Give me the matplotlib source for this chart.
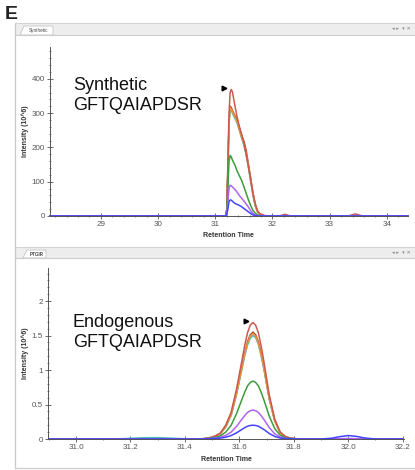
import matplotlib
matplotlib.use("Agg")
import matplotlib.pyplot as plt
from matplotlib.patches import Rectangle, Polygon
from matplotlib.lines import Line2D
from matplotlib.ticker import MultipleLocator, AutoMinorLocator
import matplotlib.transforms as mtransforms

plt.rcParams['font.family'] = ['Liberation Sans', 'DejaVu Sans']

W, H = 415, 470

# ---- data (intensity in 10^6) ----
series_names = ["brown", "teal", "orange", "red", "green", "purple", "blue"]
colors = ["#a8442e", "#4cbcbc", "#e8943c", "#cc5a50", "#3c9c3c", "#b064f0", "#4444ff"]

syn_time = [28.11, 31.18, 31.20, 31.22, 31.24, 31.26, 31.28, 31.30, 31.34, 31.38,
            31.42, 31.46, 31.50, 31.54, 31.58, 31.62, 31.66, 31.70, 31.74, 31.78,
            31.82, 31.86, 31.90, 32.12, 32.22, 32.32, 33.32, 33.45, 33.58, 34.37]
syn_red    = [0, 0, 20, 150, 300, 360, 369, 362, 325, 290, 262, 238, 215, 180, 145, 105,
              65, 35, 15, 7, 4, 2, 0, 0, 5, 0, 0, 6, 0, 0]
syn_brown  = [0, 0, 15, 130, 275, 320, 316, 308, 294, 280, 258, 236, 218, 192, 150, 110,
              66, 33, 13, 5, 2, 0, 0, 0, 0, 0, 0, 0, 0, 0]
syn_orange = [0, 0, 15, 130, 270, 316, 312, 305, 290, 275, 252, 230, 210, 183, 145, 105,
              62, 30, 12, 5, 2, 0, 0, 0, 0, 0, 0, 0, 0, 0]
syn_teal   = [0, 0, 14, 125, 265, 312, 308, 300, 286, 272, 250, 228, 206, 178, 140, 100,
              58, 28, 11, 4, 2, 0, 0, 0, 0, 0, 0, 0, 0, 0]
syn_green  = [0, 0, 10, 80, 160, 177, 172, 163, 150, 132, 118, 104, 86, 66, 47, 30,
              16, 8, 3, 1, 0, 0, 0, 0, 0, 0, 0, 0, 0, 0]
syn_purple = [0, 0, 5, 40, 80, 90, 88, 85, 78, 70, 60, 52, 44, 35, 26, 15,
              7, 3, 1, 0, 0, 0, 0, 0, 0, 0, 0, 0, 0, 0]
syn_blue   = [0, 0, 3, 20, 42, 47, 46, 43, 37, 34, 31, 27, 22, 17, 12, 7,
              3, 1, 0, 0, 0, 0, 0, 0, 0, 0, 0, 0, 0, 0]

endo_time = [30.90, 31.15, 31.20, 31.25, 31.30, 31.35, 31.40,
             31.45, 31.47, 31.49, 31.51, 31.53, 31.55, 31.57, 31.59, 31.61, 31.62, 31.63,
             31.64, 31.65, 31.66, 31.67, 31.68, 31.69, 31.71, 31.73, 31.75, 31.77, 31.79,
             31.81, 31.83, 31.85,
             31.90, 31.94, 31.97, 32.00, 32.03, 32.06, 32.10, 32.20]
endo_red    = [0, 0, 0, 0, 0, 0, 0,
               0, 0.005, 0.017, 0.04, 0.085, 0.2, 0.39, 0.73, 1.15, 1.36, 1.54,
               1.65, 1.69, 1.65, 1.54, 1.35, 1.13, 0.64, 0.29, 0.1, 0.035, 0.01,
               0.003, 0, 0,
               0, 0, 0, 0, 0, 0, 0, 0]
endo_brown  = [0, 0, 0, 0, 0, 0, 0,
               0, 0.005, 0.015, 0.04, 0.08, 0.19, 0.37, 0.68, 1.06, 1.25, 1.41,
               1.51, 1.55, 1.51, 1.41, 1.24, 1.04, 0.59, 0.27, 0.095, 0.03, 0.01,
               0.003, 0, 0,
               0, 0, 0, 0, 0, 0, 0, 0]
endo_orange = [0, 0, 0, 0, 0, 0, 0,
               0, 0.004, 0.015, 0.035, 0.075, 0.18, 0.35, 0.66, 1.04, 1.23, 1.39,
               1.49, 1.53, 1.49, 1.39, 1.22, 1.03, 0.58, 0.26, 0.09, 0.03, 0.009,
               0.003, 0, 0,
               0, 0, 0, 0, 0, 0, 0, 0]
endo_teal   = [0, 0, 0.01, 0.018, 0.02, 0.012, 0.003,
               0, 0.004, 0.014, 0.035, 0.075, 0.17, 0.34, 0.65, 1.02, 1.21, 1.36,
               1.46, 1.50, 1.47, 1.37, 1.21, 1.02, 0.58, 0.26, 0.09, 0.03, 0.009,
               0.003, 0, 0,
               0, 0, 0, 0, 0, 0, 0, 0]
endo_green  = [0, 0, 0, 0, 0, 0, 0,
               0, 0.003, 0.01, 0.022, 0.045, 0.1, 0.2, 0.37, 0.58, 0.68, 0.77,
               0.82, 0.84, 0.82, 0.77, 0.68, 0.57, 0.33, 0.15, 0.055, 0.018, 0.005,
               0.002, 0, 0,
               0, 0, 0, 0, 0, 0, 0, 0]
endo_purple = [0, 0, 0, 0, 0, 0, 0,
               0, 0.002, 0.006, 0.012, 0.025, 0.052, 0.1, 0.185, 0.29, 0.34, 0.385,
               0.41, 0.42, 0.41, 0.385, 0.34, 0.285, 0.165, 0.075, 0.028, 0.01, 0.003,
               0, 0, 0,
               0, 0, 0.005, 0.008, 0.005, 0, 0, 0]
endo_blue   = [0, 0, 0, 0, 0, 0, 0,
               0, 0.001, 0.003, 0.007, 0.013, 0.026, 0.05, 0.09, 0.14, 0.165, 0.185,
               0.196, 0.20, 0.196, 0.185, 0.162, 0.138, 0.08, 0.037, 0.014, 0.005, 0.002,
               0, 0, 0,
               0, 0.012, 0.035, 0.05, 0.038, 0.015, 0, 0]

syn_series = [syn_brown, syn_teal, syn_orange, syn_red, syn_green, syn_purple, syn_blue]
endo_series = [endo_brown, endo_teal, endo_orange, endo_red, endo_green, endo_purple, endo_blue]


def fx(x):
    return x / W


def fy(y):
    return 1 - y / H


fig = plt.figure(figsize=(W / 100, H / 100), dpi=100)
fig.patch.set_facecolor("white")


def tab_strip(y0, y1, tab_x0, tab_x1, label, bold):
    fig.add_artist(Rectangle((fx(15), fy(y1)), fx(W - 15), (y1 - y0) / H,
                             transform=fig.transFigure, facecolor="#eeeeee",
                             edgecolor="none", zorder=0))
    fig.add_artist(Line2D([fx(15), 1], [fy(y0), fy(y0)], transform=fig.transFigure,
                          color="#d4d4d4", lw=0.8))
    fig.add_artist(Line2D([fx(15), 1], [fy(y1), fy(y1)], transform=fig.transFigure,
                          color="#cccccc", lw=0.8))
    fig.add_artist(Polygon([(fx(tab_x0 - 4), fy(y1)), (fx(tab_x0), fy(y0 + 3)),
                            (fx(tab_x1), fy(y0 + 3)), (fx(tab_x1), fy(y1))],
                           closed=True, transform=fig.transFigure,
                           facecolor="white", edgecolor="#c4c4c4", lw=0.6))
    fig.text(fx((tab_x0 + tab_x1) / 2), fy((y0 + 3 + y1) / 2), label, fontsize=3.3,
             color="#444444", ha="center", va="center",
             fontweight="bold" if bold else "normal")
    fig.text(fx(401), fy(y0 + 5.5), "\u25c2 \u25b8  \u25be \u2715", fontsize=3.8,
             color="#888888", ha="center", va="center", family=["DejaVu Sans"])


# window chrome
fig.add_artist(Line2D([fx(15), fx(15)], [fy(23), fy(468)], transform=fig.transFigure,
                      color="#c8c8c8", lw=0.9))
fig.add_artist(Line2D([fx(15), 1], [fy(468), fy(468)], transform=fig.transFigure,
                      color="#cccccc", lw=0.9))
tab_strip(23, 35, 24, 53, "Synthetic", False)
tab_strip(247, 258, 27, 46, "PTGIR", True)

fig.text(fx(5), fy(19), "E", fontsize=14, fontweight="bold", ha="left",
         va="baseline", color="#222222")

ax1 = fig.add_axes([fx(50), fy(216), (408 - 50) / W, (216 - 47) / H])
ax2 = fig.add_axes([fx(48), fy(439), (404 - 48) / W, (439 - 268) / H])


def style(ax, xmaj, xmin_div, ymaj, ymin_div, xfmt):
    ax.set_facecolor("none")
    for s in ("top", "right"):
        ax.spines[s].set_visible(False)
    for s in ("left", "bottom"):
        ax.spines[s].set_color("#555555")
        ax.spines[s].set_linewidth(0.7)
    ax.xaxis.set_major_locator(MultipleLocator(xmaj))
    ax.xaxis.set_minor_locator(AutoMinorLocator(xmin_div))
    ax.yaxis.set_major_locator(MultipleLocator(ymaj))
    ax.yaxis.set_minor_locator(AutoMinorLocator(ymin_div))
    ax.tick_params(which="major", direction="inout", length=4, width=0.6,
                   color="#555555", labelsize=5.8, labelcolor="#555555", pad=1.5)
    ax.tick_params(which="minor", direction="inout", length=2, width=0.5,
                   color="#555555")
    ax.xaxis.set_major_formatter(xfmt)
    ax.set_xlabel("Retention Time", fontsize=5, fontweight="bold", color="#333333")
    ax.set_ylabel("Intensity (10^6)", fontsize=5, fontweight="bold", color="#333333")


def draw(ax, t, series, label1, label2, y1, y2, tx):
    for vals, c in zip(series, colors):
        ax.plot(t, vals, color=c, lw=1.1, clip_on=False, solid_joinstyle="round")
    red = series[3]
    peak = max(red)
    tp = t[red.index(peak)]
    shift = mtransforms.offset_copy(ax.transData, fig=fig, x=-7, y=1.5, units="dots")
    ax.plot([tp], [peak], marker=">", ms=3.4, color="black", transform=shift,
            clip_on=False)
    ax.text(tx, y1, label1, transform=ax.transAxes, fontsize=13, va="baseline",
            color="#111111")
    ax.text(tx, y2, label2, transform=ax.transAxes, fontsize=13, va="baseline",
            color="#111111")


draw(ax1, syn_time, syn_series, "Synthetic", "GFTQAIAPDSR", 0.746, 0.627, 0.064)
ax1.set_xlim(28.11, 34.37)
ax1.set_ylim(0, 493)
style(ax1, 1, 5, 100, 5, plt.FuncFormatter(lambda v, p: f"{v:.0f}"))
ax1.yaxis.set_major_formatter(plt.FuncFormatter(lambda v, p: f"{v:.0f}"))
ax1.xaxis.set_label_coords(0.499, -0.118)
ax1.xaxis.label.set_va("center")
ax1.yaxis.set_label_coords(-0.070, 0.5)
ax1.yaxis.label.set_va("center")

draw(ax2, endo_time, endo_series, "Endogenous", "GFTQAIAPDSR", 0.655, 0.538, 0.070)
ax2.set_xlim(30.897, 32.205)
ax2.set_ylim(0, 2.48)
style(ax2, 0.2, 2, 0.5, 5, plt.FuncFormatter(lambda v, p: f"{v:.1f}"))
ax2.yaxis.set_major_formatter(plt.FuncFormatter(lambda v, p: f"{v:g}"))
ax2.xaxis.set_label_coords(0.501, -0.117)
ax2.xaxis.label.set_va("center")
ax2.yaxis.set_label_coords(-0.065, 0.5)
ax2.yaxis.label.set_va("center")

fig.savefig("out.png", dpi=100, facecolor="white")
